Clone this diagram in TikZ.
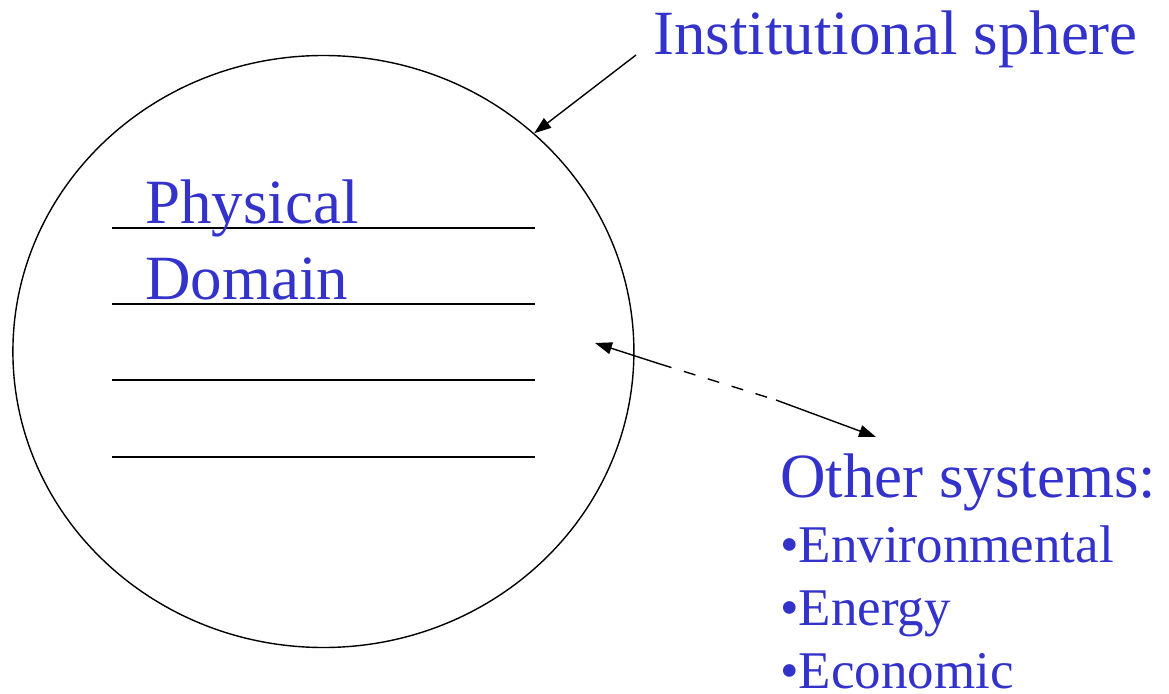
\documentclass[tikz,border=0pt]{standalone}
\usepackage{fontspec}
\setmainfont{Liberation Serif}
\usetikzlibrary{shapes.geometric,arrows.meta}
\definecolor{labelblue}{RGB}{51,51,204}
\begin{document}
\begin{tikzpicture}[x=1pt,y=-1pt,
  bigtext/.style={text=labelblue,font=\fontsize{63}{63}\selectfont,inner sep=0pt,anchor=base west},
  listtext/.style={text=labelblue,font=\fontsize{53}{53}\selectfont,inner sep=0pt,anchor=base west},
  rule/.style={line width=1.3pt},
  pointer/.style={line width=1.4pt,-{Triangle[length=17pt,width=12pt]}},
  pointerback/.style={line width=1.4pt,{Triangle[length=17pt,width=12pt]}-}]
  \useasboundingbox (0,0) rectangle (1169,693);

  % the institutional sphere
  \node[ellipse,draw,line width=1.4pt,minimum width=621pt,minimum height=592pt,inner sep=0pt]
    (sphere) at (323.4,351.5) {};

  % layered physical domain
  \draw[rule] (112,228) -- (535,228);
  \draw[rule] (112,304) -- (535,304);
  \draw[rule] (112,380) -- (535,380);
  \draw[rule] (112,457) -- (535,457);
  \node[bigtext] (physical) at (145,223) {Physical};
  \node[bigtext] (domain) at (145,299) {Domain};

  % labels
  \node[bigtext] (inst) at (653,55) {Institutional sphere};
  \node[bigtext] (other) at (780,497) {Other systems:};
  \node[listtext] (env) at (780,562) {•Environmental};
  \node[listtext] (energy) at (780,625) {•Energy};
  \node[listtext] (econ) at (780,688) {•Economic};

  % pointer to the sphere
  \coordinate (instfoot) at (636,55);
  \draw[pointer] (instfoot) -- (sphere.46);

  % link between the sphere and the other systems
  \coordinate (linkin) at (595,343);
  \coordinate (dashA) at (660,364);
  \coordinate (dashB) at (776,400);
  \coordinate (linkout) at (876,437);
  \draw[pointerback] (linkin) -- (dashA);
  \draw[line width=1.4pt,dash pattern=on 12pt off 13pt] (dashA) -- (dashB);
  \draw[pointer] (dashB) -- (linkout);
\end{tikzpicture}
\end{document}
